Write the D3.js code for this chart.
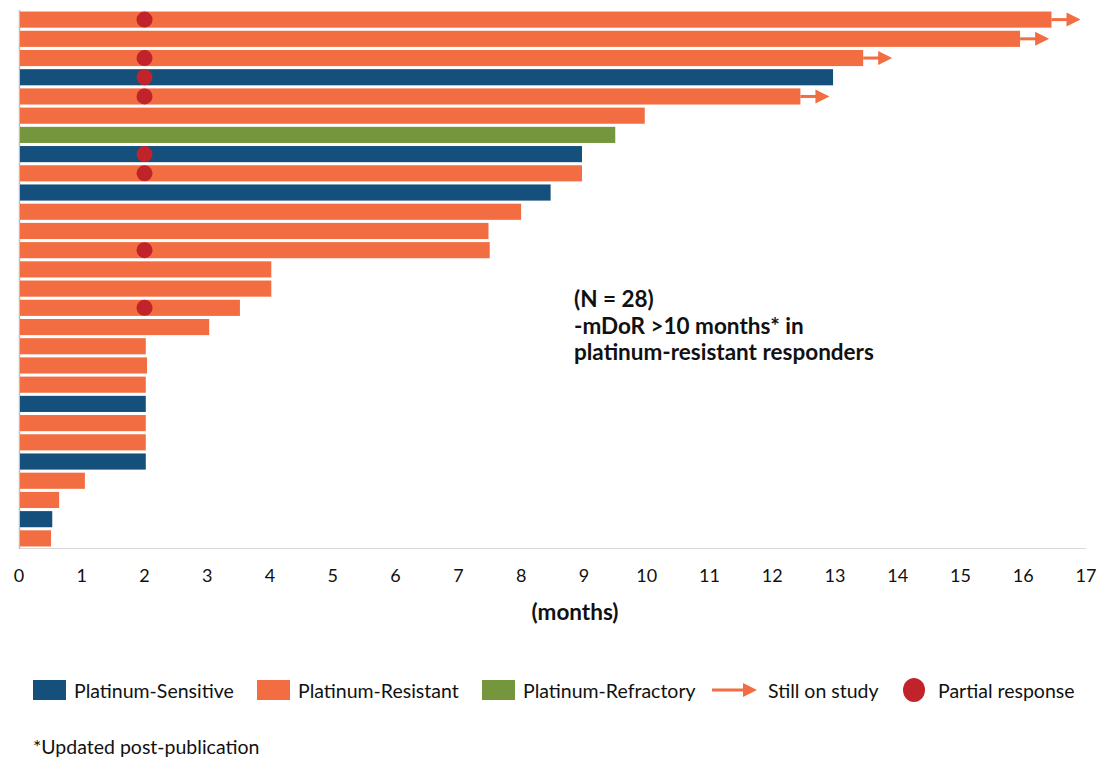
<!DOCTYPE html>
<html>
<head>
<meta charset="utf-8">
<script src="https://cdn.jsdelivr.net/npm/d3@7"></script>
<style>
  body { margin: 0; background: #fff; }
  svg { font-family: Lato, "Open Sans", sans-serif; }
</style>
</head>
<body>
<svg width="1101" height="758"></svg>
<script>
// one row per patient, top to bottom
const months = [16.45, 15.95, 13.45, 12.97, 12.45, 9.97, 9.5, 8.97, 8.97, 8.47,
                8.0, 7.48, 7.5, 4.02, 4.02, 3.52, 3.03, 2.02, 2.04, 2.02,
                2.02, 2.02, 2.02, 2.02, 1.05, 0.64, 0.53, 0.51];
const groups = ["R", "R", "R", "S", "R", "R", "F", "S", "R", "S",
                "R", "R", "R", "R", "R", "R", "R", "R", "R", "R",
                "S", "R", "R", "S", "R", "R", "S", "R"];
const onStudy = [1, 1, 1, 0, 1, 0, 0, 0, 0, 0, 0, 0, 0, 0, 0, 0, 0, 0, 0, 0, 0, 0, 0, 0, 0, 0, 0, 0];
const partialAt = [2, null, 2, 2, 2, null, null, 2, 2, null, null, null, 2, null, null, 2,
                   null, null, null, null, null, null, null, null, null, null, null, null];
const xTicks = d3.range(0, 18);

const colors = { S: "#154f7c", R: "#f26d41", F: "#76963e" };
const dotColor = "#c1232a";

const svg = d3.select("svg");
const x = d3.scaleLinear().domain([0, 17]).range([19, 1086]);
const y = d3.scaleBand().domain(d3.range(months.length)).range([10, 548]).paddingInner(0.16).paddingOuter(0.08);

// axis lines
svg.append("line").attr("x1", x(0)).attr("x2", x(17)).attr("y1", 548.5).attr("y2", 548.5)
    .attr("stroke", "#d9d9d9").attr("stroke-width", 1.2);
svg.append("line").attr("x1", 19.5).attr("x2", 19.5).attr("y1", 10).attr("y2", 549)
    .attr("stroke", "#bfbfbf").attr("stroke-width", 1.5);

// still on study arrows
function arrow(g, x0, x1, cy) {
    g.append("line").attr("x1", x0).attr("x2", x1 - 12).attr("y1", cy).attr("y2", cy)
        .attr("stroke", colors.R).attr("stroke-width", 3);
    g.append("path").attr("d", `M${x1 - 14},${cy - 7}L${x1},${cy}L${x1 - 14},${cy + 7}Z`)
        .attr("fill", colors.R);
}
const arrows = svg.append("g");
months.forEach((m, i) => {
    if (onStudy[i]) arrow(arrows, x(m), x(m) + 29, y(i) + y.bandwidth() / 2);
});

// bars
svg.append("g").selectAll("rect").data(months).join("rect")
    .attr("x", x(0) + 1)
    .attr("y", (d, i) => y(i))
    .attr("width", d => x(d) - x(0) - 1)
    .attr("height", y.bandwidth())
    .attr("fill", (d, i) => colors[groups[i]]);

// partial responses
svg.append("g").selectAll("circle")
    .data(partialAt.map((p, i) => ({ p, i })).filter(d => d.p !== null))
    .join("circle")
    .attr("cx", d => x(d.p))
    .attr("cy", d => y(d.i) + y.bandwidth() / 2)
    .attr("r", 8)
    .attr("fill", dotColor);

// x ticks
svg.append("g").selectAll("text").data(xTicks).join("text")
    .attr("x", d => x(d))
    .attr("y", 582)
    .attr("text-anchor", "middle")
    .attr("font-size", 18)
    .attr("fill", "#111")
    .text(d => d);

svg.append("text").attr("x", 575).attr("y", 620).attr("text-anchor", "middle")
    .attr("font-size", 22.5).attr("font-weight", "bold").attr("fill", "#111").text("(months)");

// annotation
const note = svg.append("text").attr("font-size", 22.5).attr("font-weight", "bold").attr("fill", "#111");
["(N = 28)", "-mDoR >10 months* in", "platinum-resistant responders"].forEach((t, i) => {
    note.append("tspan").attr("x", 574).attr("y", 307 + i * 26.5).text(t);
});

// legend
const leg = svg.append("g").attr("font-size", 19.5).attr("fill", "#111");
[["Platinum-Sensitive", colors.S, 33], ["Platinum-Resistant", colors.R, 257], ["Platinum-Refractory", colors.F, 482]]
    .forEach(([label, c, lx]) => {
        leg.append("rect").attr("x", lx).attr("y", 680).attr("width", 33).attr("height", 20).attr("fill", c);
        leg.append("text").attr("x", lx + 41).attr("y", 698).text(label);
    });
arrow(leg, 712, 757, 690);
leg.append("text").attr("x", 768).attr("y", 698).text("Still on study");
leg.append("ellipse").attr("cx", 914).attr("cy", 690).attr("rx", 11).attr("ry", 12).attr("fill", dotColor);
leg.append("text").attr("x", 938).attr("y", 698).text("Partial response");

svg.append("text").attr("x", 33).attr("y", 754).attr("font-size", 19.5).attr("fill", "#111")
    .text("*Updated post-publication");
</script>
</body>
</html>
